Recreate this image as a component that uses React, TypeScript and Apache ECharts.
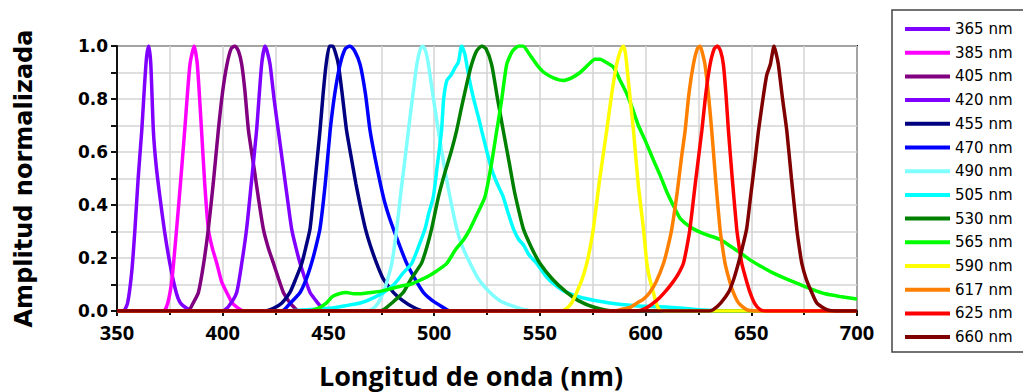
import React, { useEffect, useRef } from "react";
import * as echarts from "echarts";

const seriesNames = ["365 nm", "385 nm", "405 nm", "420 nm", "455 nm", "470 nm", "490 nm", "505 nm", "530 nm", "565 nm", "590 nm", "617 nm", "625 nm", "660 nm"];
const seriesColors = ["#8000FF", "#FF00FF", "#800080", "#8000FF", "#000080", "#0000FF", "#80FFFF", "#00FFFF", "#008000", "#00FF00", "#FFFF00", "#FF8000", "#FF0000", "#800000"];

const s365 = [[350,0],[353,0],[355,0.03],[357,0.15],[358.5,0.31],[360,0.5],[361.7,0.68],[363,0.85],[364,0.96],[365,1.0],[366,0.93],[367.2,0.68],[368.5,0.55],[370.3,0.43],[372.5,0.3],[375,0.18],[378,0.07],[380,0.03],[383,0.01],[386,0],[700,0]];
const s385 = [[350,0],[372,0],[374,0.03],[376,0.12],[378.2,0.31],[380,0.48],[382,0.68],[384.5,0.93],[386.5,1.0],[388,0.93],[390,0.68],[391.5,0.48],[393.2,0.31],[395,0.24],[397.2,0.18],[399.5,0.11],[401.9,0.07],[404.5,0.03],[407.5,0.01],[410,0],[700,0]];
const s405 = [[350,0],[383.5,0],[386,0.03],[388.5,0.07],[391,0.18],[393.2,0.31],[395.5,0.48],[397.9,0.68],[400,0.83],[402,0.93],[404,0.99],[405.8,1.0],[407.5,0.98],[409,0.93],[410.5,0.83],[412.2,0.68],[415,0.53],[417,0.42],[419.2,0.31],[421.5,0.24],[424,0.18],[426.5,0.12],[428.7,0.07],[431,0.04],[433,0.02],[436,0],[700,0]];
const s420 = [[350,0],[400,0],[403,0.02],[406.6,0.07],[409,0.18],[411.3,0.31],[413.5,0.48],[416,0.68],[418.4,0.93],[420,1.0],[421,0.98],[422.4,0.93],[424.3,0.8],[426.3,0.68],[428.5,0.55],[430.5,0.43],[432.6,0.31],[434.6,0.24],[436.6,0.18],[439,0.12],[441.3,0.07],[444,0.04],[446,0.02],[449,0],[700,0]];
const s455 = [[350,0],[420,0],[424,0.01],[428,0.03],[431.8,0.07],[434.5,0.12],[437.4,0.18],[439.3,0.24],[441.3,0.31],[443.5,0.48],[446,0.68],[447.5,0.82],[448.9,0.93],[450.5,1.0],[452,1.0],[453.5,0.97],[454.7,0.93],[456.5,0.82],[458.6,0.68],[461,0.57],[463,0.48],[465,0.4],[467.5,0.31],[469.7,0.25],[472.8,0.18],[476,0.12],[480.7,0.07],[485,0.04],[490,0.015],[495,0],[700,0]];
const s470 = [[350,0],[428,0],[432,0.03],[436.6,0.07],[439.5,0.12],[442,0.18],[444,0.24],[446,0.31],[448.5,0.48],[450.8,0.68],[453,0.82],[455.5,0.93],[458,0.99],[460.2,1.0],[462.5,0.98],[465,0.93],[467.5,0.82],[469.7,0.68],[472.5,0.56],[476,0.43],[478.5,0.36],[480.7,0.31],[484,0.24],[487,0.18],[491,0.12],[494.9,0.07],[499,0.04],[503,0.02],[507.5,0],[700,0]];
const s490 = [[350,0],[468,0],[471.2,0.01],[473.5,0.03],[476,0.07],[478,0.12],[480,0.18],[482.3,0.31],[484,0.43],[486,0.56],[487.8,0.68],[490,0.82],[491.8,0.93],[493.5,0.99],[494.6,1.0],[496,0.98],[497.3,0.93],[499.5,0.81],[502,0.68],[504.5,0.56],[507,0.45],[510.7,0.31],[513.5,0.24],[517,0.18],[521,0.12],[526.4,0.07],[532,0.035],[540.6,0.01],[548,0],[700,0]];
const s505 = [[350,0],[428,0],[440,0.005],[450,0.01],[458,0.02],[465,0.03],[470,0.045],[476,0.07],[481,0.1],[485,0.14],[489.4,0.18],[492.5,0.24],[495.7,0.31],[497.5,0.37],[499.6,0.43],[501.5,0.55],[503.5,0.68],[504.5,0.8],[506,0.87],[508,0.89],[510,0.92],[511.5,0.94],[513,1.0],[514.5,0.97],[515.4,0.93],[517,0.86],[519,0.79],[521,0.73],[522.5,0.68],[525,0.6],[527,0.54],[528.8,0.5],[531,0.46],[532.7,0.43],[535,0.37],[537.5,0.31],[540,0.27],[542.2,0.25],[545,0.21],[548.5,0.18],[553,0.13],[557,0.1],[562.7,0.07],[570,0.05],[583,0.03],[595,0.02],[610,0.015],[625,0.005],[640,0],[700,0]];
const s530 = [[350,0],[474,0],[476,0.005],[480,0.03],[485.4,0.07],[489,0.12],[494,0.18],[496.5,0.24],[498.8,0.31],[502,0.43],[505,0.52],[508,0.6],[510.6,0.68],[513,0.77],[515.5,0.86],[517.7,0.93],[520,0.98],[522.5,1.0],[524.5,0.99],[527.2,0.93],[530,0.8],[532.7,0.68],[535.5,0.56],[538,0.45],[540,0.38],[542.2,0.31],[546,0.24],[550,0.18],[556,0.12],[562.7,0.07],[568,0.04],[575.3,0.015],[585,0],[700,0]];
const s565 = [[350,0],[440,0],[445,0.01],[449,0.03],[452,0.055],[455,0.065],[458.6,0.07],[462,0.065],[465,0.065],[470,0.07],[475,0.075],[480,0.085],[485,0.095],[488.6,0.1],[493,0.115],[497,0.13],[501,0.15],[506,0.18],[510,0.23],[514,0.27],[517,0.31],[520,0.36],[524,0.43],[527,0.55],[529.6,0.68],[532,0.8],[534.3,0.93],[537,0.98],[540,1.0],[542,1.0],[545,0.97],[548.5,0.93],[552,0.9],[556.4,0.88],[561.1,0.87],[565,0.88],[569,0.9],[573,0.93],[576,0.95],[578.5,0.95],[581,0.94],[584.8,0.92],[588,0.87],[591.1,0.82],[594,0.76],[596.6,0.7],[600,0.64],[603.7,0.57],[607,0.51],[610,0.45],[613,0.4],[616.3,0.35],[619,0.33],[622.6,0.31],[628,0.29],[635.2,0.27],[640,0.245],[644.7,0.22],[650,0.19],[654.2,0.17],[660,0.145],[666.8,0.12],[673,0.1],[679.4,0.08],[685,0.065],[692,0.055],[700,0.045]];
const s590 = [[350,0],[560,0],[562.7,0.01],[565,0.03],[567.4,0.07],[570,0.12],[572.2,0.18],[573.8,0.24],[575.3,0.31],[578,0.48],[581.6,0.68],[584,0.82],[586.3,0.93],[588,0.98],[589.5,1.0],[590.3,0.98],[591.1,0.93],[592.7,0.8],[594.3,0.68],[596.5,0.48],[599,0.31],[600.6,0.18],[602,0.12],[603.7,0.07],[605,0.03],[606.5,0.005],[609,0],[700,0]];
const s617 = [[350,0],[585,0],[588,0.005],[593,0.015],[596,0.03],[599,0.045],[602,0.07],[605,0.11],[608.5,0.18],[610.5,0.24],[612.4,0.31],[615,0.45],[617,0.58],[618.7,0.68],[620.5,0.82],[622.6,0.93],[624.5,0.99],[625.8,1.0],[627,0.97],[628.1,0.93],[629.7,0.82],[631.3,0.68],[633.3,0.48],[635.2,0.31],[636.4,0.24],[637.6,0.18],[639.5,0.12],[641.5,0.07],[644,0.03],[647.8,0.005],[652,0],[700,0]];
const s625 = [[350,0],[596,0],[600,0.01],[605.3,0.04],[609,0.07],[613,0.11],[615.5,0.14],[617.9,0.18],[619.5,0.24],[621,0.31],[623.5,0.48],[626.6,0.68],[628.5,0.82],[630.5,0.93],[632.5,0.99],[634,1.0],[635.5,0.98],[636.8,0.93],[638,0.82],[639.2,0.68],[641,0.5],[643.1,0.31],[644.3,0.24],[645.5,0.18],[647.5,0.12],[649.4,0.07],[651.5,0.03],[654.2,0.005],[657,0],[700,0]];
const s660 = [[350,0],[630,0],[632,0.005],[635.5,0.03],[639.2,0.07],[641.7,0.12],[643.9,0.18],[645.8,0.24],[647.8,0.31],[649.8,0.44],[651.8,0.57],[653.4,0.68],[655.5,0.8],[657.3,0.89],[659,0.93],[660.8,1.0],[661.8,0.97],[662.8,0.93],[664.8,0.8],[666.8,0.68],[669,0.5],[671.5,0.31],[672.7,0.24],[673.9,0.18],[676,0.12],[678.6,0.07],[681,0.03],[685.7,0.005],[690,0],[700,0]];

const seriesData = [s365, s385, s405, s420, s455, s470, s490, s505, s530, s565, s590, s617, s625, s660];

const xTicks = { min: 350, max: 700, interval: 50 };
const yTicks = { min: 0, max: 1, interval: 0.2 };

export default function App() {
  const ref = useRef<HTMLDivElement>(null);
  useEffect(() => {
    document.body.style.margin = "0";
    const chart = echarts.init(ref.current!, undefined, { renderer: "svg" });
    const gridLine = { show: true, lineStyle: { color: "#d4d4d4", width: 1.5 } };
    chart.setOption({
      animation: false,
      backgroundColor: "#fff",
      grid: {
        left: 117, right: 166, top: 46, bottom: 81,
        outerBoundsMode: "none", containLabel: false,
        show: true, borderColor: "#111", borderWidth: 2,
      },
      legend: {
        orient: "vertical",
        left: 892,
        top: 10,
        padding: [11, 24, 7, 13],
        borderColor: "#444",
        borderWidth: 1.5,
        itemWidth: 45,
        itemHeight: 4,
        itemGap: 7.7,
        icon: "rect",
        textStyle: { fontFamily: "DejaVu Sans", fontSize: 15, color: "#000", lineHeight: 16 },
        data: seriesNames,
      },
      xAxis: {
        type: "value",
        min: xTicks.min,
        max: xTicks.max,
        interval: xTicks.interval,
        name: "Longitud de onda (nm)",
        nameLocation: "middle",
        nameGap: 49,
        nameTextStyle: { fontFamily: "Open Sans", fontWeight: "bold", fontSize: 27, lineHeight: 30, color: "#000", padding: [0, 32, 0, 0] },
        axisLine: { show: true, lineStyle: { color: "#111", width: 2 } },
        axisTick: { show: true, inside: false, length: 5, lineStyle: { color: "#111", width: 2 } },
        minorTick: { show: true, splitNumber: 2, length: 4, lineStyle: { color: "#111", width: 2 } },
        splitLine: gridLine,
        minorSplitLine: gridLine,
        axisLabel: { fontFamily: "Open Sans", fontWeight: "bold", fontSize: 20, color: "#000", margin: 11 },
      },
      yAxis: {
        type: "value",
        min: yTicks.min,
        max: yTicks.max,
        interval: yTicks.interval,
        name: "Amplitud normalizada",
        nameLocation: "middle",
        nameGap: 81,
        nameTextStyle: { fontFamily: "DejaVu Sans", fontWeight: "bold", fontSize: 24, color: "#000" },
        axisLine: { show: true, lineStyle: { color: "#111", width: 2 } },
        axisTick: { show: true, inside: false, length: 6, lineStyle: { color: "#111", width: 2 } },
        minorTick: { show: true, splitNumber: 2, length: 6, lineStyle: { color: "#111", width: 2 } },
        splitLine: gridLine,
        minorSplitLine: gridLine,
        axisLabel: {
          fontFamily: "DejaVu Sans", fontWeight: "bold", fontSize: 17, color: "#000", margin: 9,
          formatter: (v: number) => v.toFixed(1),
        },
      },
      series: seriesNames.map((name, i) => ({
        name,
        type: "line",
        data: seriesData[i],
        showSymbol: false,
        symbol: "none",
        smooth: 0.2,
        color: seriesColors[i],
        lineStyle: { color: seriesColors[i], width: 3.5 },
      })),
    });
    return () => chart.dispose();
  }, []);
  return <div ref={ref} style={{ width: 1023, height: 392 }} />;
}
